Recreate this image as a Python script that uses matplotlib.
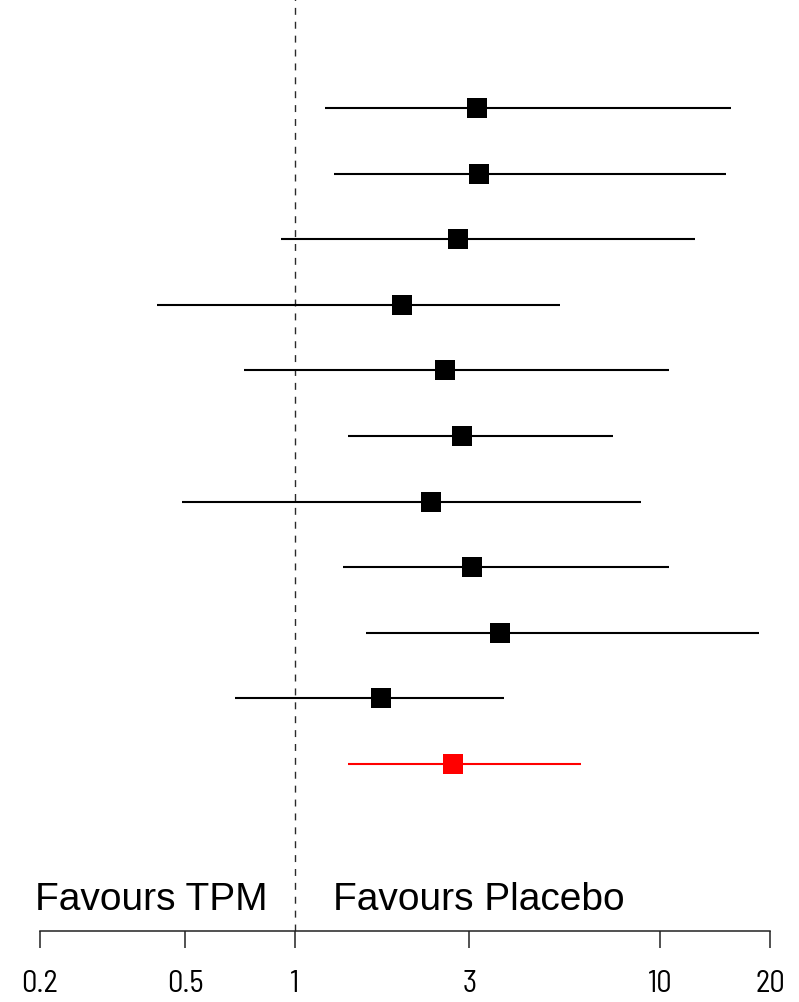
import matplotlib
matplotlib.use("Agg")
import matplotlib.pyplot as plt
from matplotlib import font_manager
import numpy as np

plt.rcParams['font.family'] = ['Liberation Sans', 'DejaVu Sans']

# Odds ratios with 95% confidence intervals (last row: pooled estimate)
odds_ratio = [3.15, 3.19, 2.80, 1.96, 2.58, 2.86, 2.35, 3.05, 3.63, 1.72, 2.70]
ci_lower = [1.21, 1.28, 0.915, 0.42, 0.725, 1.40, 0.49, 1.35, 1.56, 0.683, 1.40]
ci_upper = [15.6, 15.1, 12.45, 5.32, 10.57, 7.41, 8.83, 10.57, 18.66, 3.73, 6.05]
row_colors = ['black'] * 10 + ['red']

tick_values = [0.2, 0.5, 1, 3, 10, 20]
tick_labels = ['0.2', '0.5', '1', '3', '10', '20']
left_label = 'Favours TPM'
right_label = 'Favours Placebo'

# narrow face for the axis numbers
installed = {f.name for f in font_manager.fontManager.ttflist}
if 'Barlow Semi Condensed' in installed:
    tick_family, tick_size = ['Barlow Semi Condensed', 'Liberation Sans'], 22
else:
    tick_family, tick_size = ['Liberation Sans'], 19

W, H = 799, 1003
fig = plt.figure(figsize=(W / 100, H / 100), dpi=100)

axis_y = 931.7
x_left, x_right = 39.7, 770.4
ax = fig.add_axes([x_left / W, (H - axis_y) / H, (x_right - x_left) / W, axis_y / H])
ax.set_xscale('log')
ax.set_xlim(0.2, 20)

row_top, row_step = 109.0, 65.6
ax.set_ylim((axis_y - row_top) / row_step, -row_top / row_step)

rows = np.arange(len(odds_ratio))
for r, est, lo, hi, col in zip(rows, odds_ratio, ci_lower, ci_upper, row_colors):
    ax.plot([lo, hi], [r, r], color=col, lw=1.5, solid_capstyle='butt', zorder=2)
    ax.plot([est], [r], marker='s', ms=15, color=col, mec=col, mew=0, zorder=3)

# line of no effect
ax.axvline(1, color='#2a2a2a', lw=1.0, linestyle=(0, (5, 5)), zorder=1)

for s in ['top', 'left', 'right']:
    ax.spines[s].set_visible(False)
ax.spines['bottom'].set_linewidth(1.1)
ax.spines['bottom'].set_color('#222222')
ax.set_yticks([])
ax.set_xticks(tick_values)
ax.set_xticklabels(tick_labels, family=tick_family, fontweight='normal')
ax.xaxis.set_minor_locator(matplotlib.ticker.NullLocator())
ax.tick_params(axis='x', length=12.5, width=1.1, color='#222222', pad=15,
               labelsize=tick_size, labelcolor='black')

fig.text(35 / W, 1 - 900 / H, left_label, fontsize=28, va='center', ha='left')
fig.text(333 / W, 1 - 900 / H, right_label, fontsize=28, va='center', ha='left')

fig.savefig('out.png', dpi=100)
